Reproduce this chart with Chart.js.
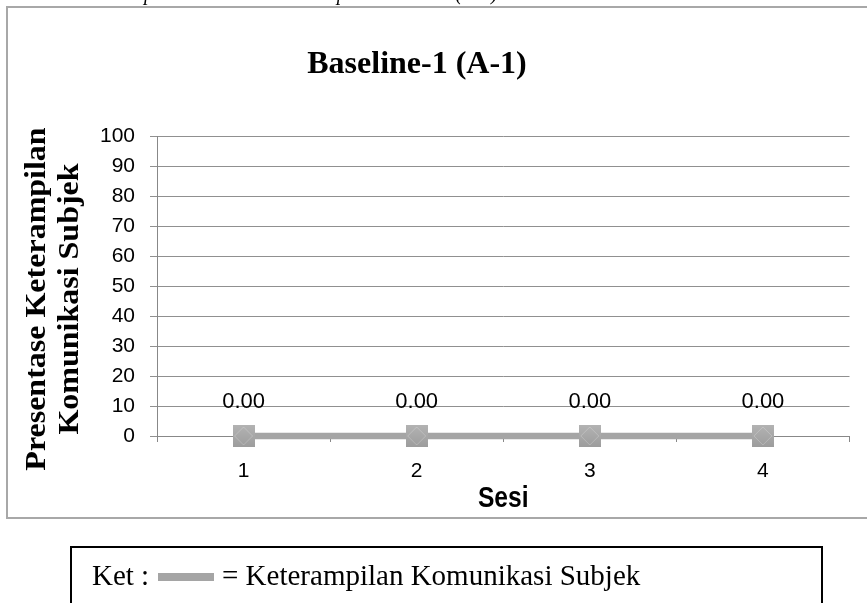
<!DOCTYPE html>
<html>
<head>
<meta charset="utf-8">
<script src="https://cdn.jsdelivr.net/npm/chart.js@4/dist/chart.umd.min.js"></script>
<style>
  html, body { margin: 0; padding: 0; background: #fff; overflow: hidden; }
  canvas { display: block; }
</style>
</head>
<body>
<canvas id="chart" width="867" height="603"></canvas>
<script>
// ---- data ----
const sessions = ['1', '2', '3', '4'];
const skillPercent = [0, 0, 0, 0];
const yTickValues = [0, 10, 20, 30, 40, 50, 60, 70, 80, 90, 100];

// ---- text ----
const captionText = 'Keterampilan Komunikasi Anak pada Baseline (A-1)';
const chartTitle = 'Baseline-1 (A-1)';
const yTitleLines = ['Presentase Keterampilan', 'Komunikasi Subjek'];
const xTitle = 'Sesi';
const seriesName = 'Keterampilan Komunikasi Subjek';
const legendPrefix = 'Ket :';

const SERIF = '"Liberation Serif", "Times New Roman", serif';
const SANS = '"Liberation Sans", Arial, sans-serif';
const LINE_GREY = '#a5a5a5';
const AXIS_GREY = '#888888';

// square marker with a faint inner diamond
function markerImage(size) {
  const c = document.createElement('canvas');
  c.width = size; c.height = size;
  const g = c.getContext('2d');
  const grad = g.createLinearGradient(0, 0, 0, size);
  grad.addColorStop(0, '#b3b3b3');
  grad.addColorStop(1, '#9d9d9d');
  g.fillStyle = grad;
  g.fillRect(0, 0, size, size);
  g.strokeStyle = 'rgba(255,255,255,0.22)';
  g.lineWidth = 1;
  g.beginPath();
  g.moveTo(size / 2, 2);
  g.lineTo(size - 2, size / 2);
  g.lineTo(size / 2, size - 2);
  g.lineTo(2, size / 2);
  g.closePath();
  g.stroke();
  return c;
}

const decorations = {
  id: 'decorations',
  beforeDraw(chart) {
    const ctx = chart.ctx;
    ctx.save();
    ctx.fillStyle = '#fff';
    ctx.fillRect(0, 0, chart.width, chart.height);

    // caption line running off the top edge
    ctx.fillStyle = '#000';
    ctx.textAlign = 'left';
    ctx.textBaseline = 'alphabetic';
    ctx.font = 'italic 20px ' + SERIF;
    ctx.fillText(captionText, 75, 0);

    // chart frame
    ctx.strokeStyle = '#a8a8a8';
    ctx.lineWidth = 2;
    ctx.strokeRect(7, 7, 900, 511);

    // chart title
    ctx.font = 'bold 32px ' + SERIF;
    ctx.textAlign = 'center';
    ctx.fillText(chartTitle, 417, 73);

    // y-axis title, two rotated lines
    const baselines = [45, 78];
    yTitleLines.forEach((line, i) => {
      ctx.save();
      ctx.translate(baselines[i], 299);
      ctx.rotate(-Math.PI / 2);
      ctx.scale(1, 0.92);
      ctx.font = 'bold 32px ' + SERIF;
      ctx.textAlign = 'center';
      ctx.textBaseline = 'alphabetic';
      ctx.fillText(line, 0, 0);
      ctx.restore();
    });

    // legend box
    ctx.strokeStyle = '#000';
    ctx.lineWidth = 2;
    ctx.strokeRect(71, 547, 751, 120);
    ctx.font = '29px ' + SERIF;
    ctx.textAlign = 'left';
    ctx.fillText(legendPrefix, 92, 585);
    ctx.fillStyle = chart.data.datasets[0].borderColor;
    ctx.fillRect(158, 573, 56, 8);
    ctx.fillStyle = '#000';
    ctx.fillText('= ' + chart.data.datasets[0].label, 222, 585);
    ctx.restore();
  },
  afterDraw(chart) {
    // x-axis title, condensed bold
    const ctx = chart.ctx;
    const a = chart.chartArea;
    ctx.save();
    ctx.translate((a.left + a.right) / 2, 507);
    ctx.scale(0.82, 1);
    ctx.font = 'bold 30px ' + SANS;
    ctx.fillStyle = '#000';
    ctx.textAlign = 'center';
    ctx.textBaseline = 'alphabetic';
    ctx.fillText(xTitle, 0, 0);
    ctx.restore();
  },
  afterDatasetsDraw(chart) {
    // value labels above each point
    const ctx = chart.ctx;
    const ds = chart.data.datasets[0];
    const meta = chart.getDatasetMeta(0);
    ctx.save();
    ctx.font = '22px ' + SANS;
    ctx.fillStyle = '#000';
    ctx.textAlign = 'center';
    ctx.textBaseline = 'alphabetic';
    meta.data.forEach((pt, i) => {
      ctx.fillText(Number(ds.data[i]).toFixed(2), pt.x, pt.y - 28);
    });
    ctx.restore();
  }
};

new Chart(document.getElementById('chart'), {
  type: 'line',
  data: {
    labels: sessions,
    datasets: [{
      label: seriesName,
      data: skillPercent,
      borderColor: LINE_GREY,
      borderWidth: 6.5,
      pointStyle: markerImage(22),
      pointRadius: 11,
      pointHoverRadius: 11,
      clip: false,
      tension: 0
    }]
  },
  options: {
    responsive: false,
    devicePixelRatio: 1,
    animation: false,
    events: [],
    layout: { padding: { left: 97, right: 6, top: 136, bottom: 87 } },
    plugins: {
      legend: { display: false },
      tooltip: { enabled: false },
      title: { display: false }
    },
    scales: {
      x: {
        type: 'category',
        offset: true,
        grid: {
          display: true,
          offset: true,
          drawOnChartArea: false,
          drawTicks: true,
          tickLength: 6,
          color: AXIS_GREY,
          lineWidth: 1
        },
        border: { display: true, color: AXIS_GREY, width: 1 },
        ticks: {
          font: { family: SANS, size: 21 },
          color: '#000',
          padding: 17,
          maxRotation: 0
        },
        title: { display: false },
        afterFit(scale) { scale.height = 80; }
      },
      y: {
        min: 0,
        max: 100,
        afterBuildTicks(scale) { scale.ticks = yTickValues.map(v => ({ value: v })); },
        grid: { color: '#909090', lineWidth: 1, tickLength: 7 },
        border: { display: true, color: AXIS_GREY, width: 1 },
        ticks: {
          font: { family: SANS, size: 21 },
          color: '#000',
          padding: 15
        },
        afterFit(scale) { scale.width = 60; }
      }
    }
  },
  plugins: [decorations]
});
</script>
</body>
</html>
